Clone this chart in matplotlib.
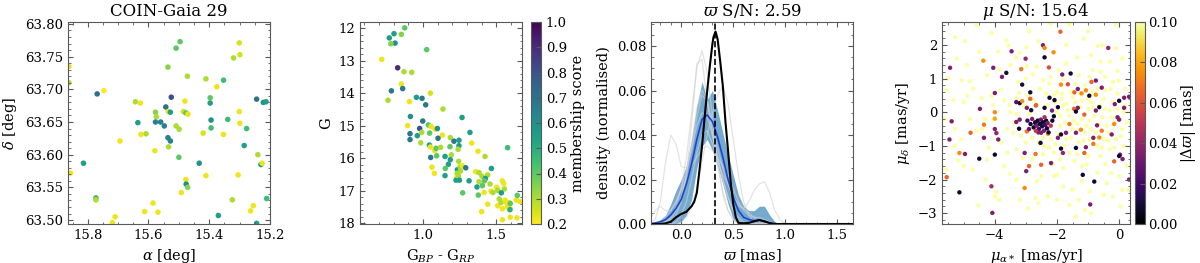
import matplotlib
matplotlib.use('Agg')
import matplotlib.pyplot as plt
import numpy as np

plt.rcParams.update({
    'font.family': 'DejaVu Serif',
    'mathtext.fontset': 'dejavuserif',
    'font.size': 9.5,
    'axes.labelsize': 10.5,
    'axes.titlesize': 12,
    'axes.edgecolor': '0.35',
    'xtick.color': '0.35',
    'ytick.color': '0.35',
    'xtick.labelcolor': 'black',
    'ytick.labelcolor': 'black',
    'xtick.direction': 'in',
    'ytick.direction': 'in',
    'xtick.top': True,
    'ytick.right': True,
    'xtick.minor.visible': True,
    'ytick.minor.visible': True,
    'xtick.major.size': 3.5,
    'ytick.major.size': 3.5,
    'xtick.minor.size': 1.8,
    'ytick.minor.size': 1.8,
})

# ---- panel 1: sky positions (ra, dec, membership score)
RA = [15.496, 15.509, 15.301, 15.299, 15.320, 15.536, 15.472, 15.411, 15.353, 15.375,
      15.862, 15.862, 15.769, 15.747, 15.525, 15.543, 15.643, 15.627, 15.480, 15.397,
      15.397, 15.244, 15.222, 15.213, 15.301, 15.577, 15.574, 15.535, 15.528, 15.485,
      15.477, 15.470, 15.577, 15.560, 15.548, 15.635, 15.509, 15.499, 15.394, 15.339,
      15.299, 15.394, 15.277, 15.625, 15.608, 15.420, 15.353, 15.536, 15.528, 15.534,
      15.285, 15.694, 15.579, 15.500, 15.240, 15.814, 15.433, 15.230, 15.226, 15.857,
      15.411, 15.305, 15.477, 15.476, 15.471, 15.492, 15.773, 15.773, 15.324, 15.211,
      15.585, 15.613, 15.569, 15.255, 15.264, 15.710, 15.370, 15.719, 15.244]
DEC = [63.773, 63.763, 63.771, 63.753, 63.748, 63.734, 63.720, 63.716, 63.714, 63.704,
       63.710, 63.735, 63.693, 63.698, 63.688, 63.673, 63.681, 63.679, 63.682, 63.687,
       63.679, 63.685, 63.680, 63.681, 63.666, 63.665, 63.658, 63.666, 63.665, 63.666,
       63.664, 63.662, 63.650, 63.650, 63.644, 63.649, 63.644, 63.639, 63.653, 63.654,
       63.648, 63.641, 63.640, 63.631, 63.632, 63.633, 63.631, 63.626, 63.621, 63.612,
       63.614, 63.621, 63.606, 63.596, 63.600, 63.587, 63.587, 63.585, 63.587, 63.572,
       63.568, 63.569, 63.562, 63.555, 63.550, 63.542, 63.534, 63.531, 63.531, 63.533,
       63.526, 63.513, 63.512, 63.522, 63.514, 63.505, 63.507, 63.496, 63.495]
SCORE_SKY = [0.40, 0.40, 0.25, 0.25, 0.30, 0.35, 0.30, 0.30, 0.45, 0.22,
             0.30, 0.22, 0.70, 0.20, 0.80, 0.70, 0.30, 0.22, 0.22, 0.40,
             0.55, 0.70, 0.60, 0.55, 0.22, 0.35, 0.30, 0.22, 0.55, 0.25,
             0.40, 0.22, 0.65, 0.65, 0.65, 0.55, 0.30, 0.30, 0.60, 0.45,
             0.22, 0.45, 0.45, 0.22, 0.30, 0.25, 0.22, 0.65, 0.65, 0.30,
             0.55, 0.22, 0.22, 0.40, 0.30, 0.55, 0.60, 0.55, 0.22, 0.22,
             0.22, 0.22, 0.22, 0.60, 0.35, 0.22, 0.45, 0.30, 0.30, 0.45,
             0.22, 0.22, 0.22, 0.22, 0.22, 0.22, 0.55, 0.22, 0.55]

# ---- panel 2: colour-magnitude diagram
BP_RP = [0.875, 0.802, 0.852, 0.770, 0.809, 0.780, 1.025, 0.718, 0.827, 0.870,
         0.923, 0.852, 0.861, 0.784, 1.050, 0.955, 0.993, 0.761, 0.907, 1.018,
         1.136, 0.914, 1.266, 0.998, 0.895, 0.911, 0.911, 0.977, 0.991, 0.961,
         1.036, 1.055, 1.082, 1.098, 1.045, 1.132, 1.102, 0.984, 1.043, 1.050,
         1.080, 1.089, 1.120, 1.186, 1.211, 1.245, 1.245, 1.184, 1.239, 1.320,
         1.332, 1.052, 1.093, 1.150, 1.193, 1.186, 1.173, 1.152, 1.061, 1.077,
         1.150, 1.243, 1.234, 1.232, 1.232, 1.225, 1.252, 1.270, 1.291, 1.255,
         1.241, 1.248, 1.314, 1.270, 1.375, 1.423, 1.466, 1.359, 1.382, 1.402,
         1.382, 1.441, 1.425, 1.418, 1.368, 1.405, 1.457, 1.377, 1.416, 1.464,
         1.502, 1.509, 1.477, 1.541, 1.550, 1.555, 1.534, 1.520, 1.577, 1.441,
         1.509, 1.532, 1.568, 1.586, 1.575, 1.593, 1.541, 1.559, 1.636, 1.643,
         1.661, 1.593, 1.400, 1.595, 1.641, 1.541, 1.595]
G_MAG = [11.98, 12.16, 12.18, 12.29, 12.45, 12.47, 12.65, 12.95, 13.21, 13.33,
         13.35, 13.71, 13.85, 13.92, 13.99, 14.12, 14.15, 14.21, 14.25, 14.35,
         14.48, 14.71, 14.74, 14.85, 14.99, 15.24, 15.42, 15.08, 15.20, 15.30,
         14.97, 15.02, 15.10, 15.08, 15.22, 15.28, 15.38, 15.52, 15.59, 15.65,
         15.76, 15.69, 15.66, 15.36, 15.47, 15.44, 15.61, 15.64, 15.72, 15.20,
         15.53, 15.97, 15.92, 15.94, 15.89, 16.04, 16.18, 16.31, 16.27, 16.46,
         16.53, 16.09, 16.35, 16.46, 16.58, 16.67, 16.26, 16.23, 16.29, 16.39,
         16.54, 16.67, 16.69, 17.06, 15.78, 15.94, 16.31, 16.41, 16.44, 16.55,
         16.72, 16.51, 16.62, 16.69, 16.88, 16.84, 16.79, 17.13, 17.05, 17.01,
         16.89, 16.98, 17.05, 16.69, 16.77, 16.94, 17.06, 17.25, 15.67, 17.41,
         17.46, 17.36, 17.35, 17.36, 17.49, 17.55, 17.55, 17.29, 17.28, 17.14,
         17.33, 17.58, 17.64, 17.81, 17.83, 17.89, 17.39]
SCORE_CMD = [0.40, 0.55, 0.35, 0.55, 0.60, 0.35, 0.40, 0.22, 0.90, 0.30,
             0.30, 0.22, 0.68, 0.68, 0.25, 0.55, 0.68, 0.30, 0.22, 0.68,
             0.30, 0.60, 0.55, 0.68, 0.22, 0.68, 0.68, 0.80, 0.30, 0.55,
             0.40, 0.22, 0.22, 0.60, 0.40, 0.22, 0.68, 0.30, 0.55, 0.22,
             0.22, 0.40, 0.30, 0.30, 0.68, 0.55, 0.55, 0.40, 0.30, 0.55,
             0.22, 0.68, 0.40, 0.55, 0.30, 0.55, 0.55, 0.40, 0.22, 0.22,
             0.55, 0.30, 0.55, 0.30, 0.22, 0.55, 0.30, 0.22, 0.68, 0.30,
             0.30, 0.55, 0.55, 0.40, 0.22, 0.30, 0.55, 0.22, 0.30, 0.30,
             0.30, 0.30, 0.55, 0.40, 0.55, 0.40, 0.30, 0.40, 0.22, 0.22,
             0.22, 0.30, 0.30, 0.22, 0.22, 0.30, 0.55, 0.30, 0.45, 0.22,
             0.22, 0.30, 0.22, 0.22, 0.22, 0.22, 0.22, 0.22, 0.22, 0.40,
             0.22, 0.50, 0.22, 0.22, 0.22, 0.22, 0.40]

# ---- panel 3: parallax densities
OMEGA_GRID = [-0.30, -0.25, -0.20, -0.15, -0.10, -0.05, 0.00, 0.05, 0.10, 0.15,
              0.20, 0.25, 0.30, 0.35, 0.40, 0.45, 0.50, 0.55, 0.60, 0.65,
              0.70, 0.75, 0.80, 0.85, 0.90, 0.95, 1.00]
GREY_CURVES = [
    [0, 0, 0, 0.001, 0.003, 0.008, 0.016, 0.030, 0.050, 0.070, 0.078, 0.068, 0.048, 0.028,
     0.014, 0.006, 0.002, 0.001, 0, 0, 0, 0, 0, 0, 0, 0, 0],
    [0, 0, 0, 0, 0.001, 0.004, 0.010, 0.022, 0.045, 0.072, 0.074, 0.055, 0.040, 0.030,
     0.020, 0.012, 0.006, 0.002, 0, 0, 0, 0, 0, 0, 0, 0, 0],
    [0, 0.002, 0.010, 0.028, 0.040, 0.036, 0.026, 0.025, 0.033, 0.048, 0.058, 0.055, 0.042,
     0.026, 0.014, 0.006, 0.002, 0, 0, 0, 0, 0, 0, 0, 0, 0, 0],
    [0, 0, 0, 0, 0, 0, 0.001, 0.003, 0.008, 0.016, 0.028, 0.040, 0.050, 0.058, 0.062,
     0.054, 0.038, 0.022, 0.010, 0.004, 0.001, 0, 0, 0, 0, 0, 0],
    [0, 0, 0, 0, 0, 0.001, 0.004, 0.010, 0.020, 0.032, 0.040, 0.042, 0.036, 0.028, 0.022,
     0.018, 0.012, 0.008, 0.007, 0.010, 0.015, 0.018, 0.019, 0.014, 0.006, 0.002, 0],
    [0.002, 0.006, 0.008, 0.006, 0.006, 0.010, 0.016, 0.024, 0.034, 0.044, 0.050, 0.048,
     0.040, 0.030, 0.020, 0.012, 0.006, 0.003, 0.001, 0, 0, 0, 0, 0, 0, 0, 0],
    [0, 0, 0.001, 0.003, 0.006, 0.010, 0.015, 0.020, 0.026, 0.030, 0.034, 0.035, 0.033,
     0.030, 0.026, 0.022, 0.016, 0.010, 0.006, 0.004, 0.003, 0.003, 0.002, 0.001, 0, 0, 0],
    [0, 0, 0, 0.001, 0.002, 0.006, 0.012, 0.022, 0.036, 0.052, 0.060, 0.056, 0.045, 0.034,
     0.025, 0.018, 0.012, 0.009, 0.007, 0.005, 0.003, 0.001, 0, 0, 0, 0, 0],
]
MEDIAN_X = OMEGA_GRID + [1.20, 1.65]
MEDIAN_Y = [0, 0.0005, 0.001, 0.002, 0.004, 0.007, 0.011, 0.018, 0.027, 0.038,
            0.047, 0.049, 0.046, 0.039, 0.030, 0.020, 0.012, 0.006, 0.003, 0.002,
            0.0015, 0.0017, 0.0012, 0.0005, 0.0001, 0, 0, 0, 0]
BAND_LOW = [0, 0, 0, 0, 0, 0, 0.001, 0.004, 0.011, 0.025, 0.035, 0.038, 0.033, 0.026,
            0.018, 0.009, 0.002, 0, 0, 0, 0, 0, 0, 0, 0, 0, 0]
BAND_HIGH = [0, 0.0005, 0.002, 0.004, 0.009, 0.015, 0.020, 0.026, 0.038, 0.053, 0.064,
             0.056, 0.060, 0.051, 0.041, 0.031, 0.022, 0.013, 0.008, 0.006, 0.006,
             0.008, 0.008, 0.004, 0.001, 0, 0]
BLACK_X = [-0.30, -0.20, -0.15, -0.10, -0.05, 0.00, 0.05, 0.10, 0.125, 0.15, 0.175,
           0.20, 0.225, 0.25, 0.275, 0.30, 0.31, 0.33, 0.35, 0.36, 0.375, 0.40, 0.425,
           0.45, 0.475, 0.50, 0.525, 0.55, 0.60, 0.65, 0.70, 0.75, 0.80, 0.85, 0.90, 1.65]
BLACK_Y = [0, 0, 0.0003, 0.001, 0.003, 0.0045, 0.0055, 0.008, 0.010, 0.014, 0.024,
           0.035, 0.048, 0.060, 0.071, 0.081, 0.084, 0.0865, 0.083, 0.079, 0.073, 0.062,
           0.046, 0.033, 0.019, 0.009, 0.003, 0.0005, 0.0003, 0.0005, 0.0012, 0.0018,
           0.0012, 0.0004, 0, 0]
PLX_REF = 0.327

# ---- panel 4: proper motions, coloured by |delta parallax|
PM_COLOURED = [
    (-3.46, 1.81, 0.035), (-3.01, 1.59, 0.04), (-4.37, 1.53, 0.075), (-5.44, 1.32, 0.035),
    (-4.05, 1.32, 0.035), (-3.15, 1.28, 0.07), (-3.63, 1.17, 0.01), (-3.77, 1.05, 0.035),
    (-3.12, 0.82, 0.01), (-4.00, 0.57, 0.035), (-2.86, 0.59, 0.01), (-2.86, 0.40, 0.065),
    (-3.31, 0.30, 0.025), (-3.20, 0.27, 0.01), (-3.12, 0.33, 0.075), (-2.97, 0.13, 0.035),
    (-2.83, 0.06, 0.01), (-2.67, 0.21, 0.07), (-4.48, 0.10, 0.035), (-4.00, 0.00, 0.075),
    (-4.00, -0.19, 0.08), (-3.20, -0.22, 0.035),
    (-1.89, 2.39, 0.065), (-0.35, 1.91, 0.04), (-2.45, 1.99, 0.035), (-2.40, 1.91, 0.075),
    (-2.11, 1.78, 0.075), (-2.40, 1.63, 0.008), (-2.26, 1.33, 0.06), (-1.83, 1.12, 0.035),
    (-1.56, 1.15, 0.008), (-0.75, 0.94, 0.035), (-0.89, 0.90, 0.065), (-1.65, 0.83, 0.06),
    (-1.87, 0.82, 0.075), (-0.56, 0.73, 0.035), (-1.07, 0.65, 0.075), (-1.33, 0.69, 0.035),
    (-1.44, 0.59, 0.065), (-1.21, 0.56, 0.075), (-0.96, 0.49, 0.008), (-0.75, 0.52, 0.075),
    (-2.24, 0.43, 0.008), (-2.08, 0.36, 0.008), (0.16, 0.43, 0.035), (0.32, 0.46, 0.035),
    (0.00, 0.34, 0.008), (-0.14, 0.24, 0.035), (-2.68, 0.20, 0.065), (-2.40, 0.13, 0.008),
    (-1.97, 0.15, 0.008), (-2.16, 0.05, 0.035), (-1.33, 0.13, 0.035), (-1.45, 0.10, 0.065),
    (-0.64, 0.15, 0.008), (-0.75, 0.05, 0.035), (-1.12, -0.07, 0.065), (-2.10, -0.12, 0.008),
    (-1.39, 0.02, 0.008), (0.16, 0.13, 0.035), (-0.05, -0.15, 0.035),
    (-5.39, -0.27, 0.035), (-4.35, -0.37, 0.07), (-4.78, -0.61, 0.065), (-5.46, -0.81, 0.035),
    (-4.35, -0.76, 0.035), (-4.00, -0.50, 0.035), (-3.89, -0.81, 0.035), (-3.95, -0.62, 0.04),
    (-5.14, -1.21, 0.075), (-4.96, -1.24, 0.035), (-4.50, -1.38, 0.008), (-4.00, -1.26, 0.008),
    (-5.55, -1.93, 0.065), (-5.14, -2.38, 0.008), (-4.11, -2.20, 0.045), (-4.08, -2.99, 0.035),
    (-3.04, -2.25, 0.075), (-3.31, -0.29, 0.035), (-3.22, -0.49, 0.008), (-2.97, -0.57, 0.07),
    (-3.04, -1.21, 0.035), (-2.90, -1.60, 0.065), (-2.99, -1.75, 0.035), (-2.70, -0.32, 0.02),
    (-2.51, -0.61, 0.035), (-2.29, -0.64, 0.075), (-2.53, -0.91, 0.008), (-2.69, -1.24, 0.07),
    (-1.97, -0.76, 0.035), (-1.87, -0.66, 0.008), (-1.71, -0.61, 0.035), (-1.87, -1.08, 0.008),
    (-1.81, -1.21, 0.04), (-1.60, -0.35, 0.07), (-1.39, -0.61, 0.035), (-1.23, -0.52, 0.075),
    (-1.39, -1.06, 0.008), (-1.12, -1.21, 0.065), (-1.07, -1.04, 0.035), (-0.83, -0.94, 0.07),
    (-0.83, -0.76, 0.035), (-0.64, -0.75, 0.075), (-0.71, -0.39, 0.035), (-0.56, -0.55, 0.07),
    (-0.24, -0.66, 0.035), (-0.16, -0.35, 0.075), (0.00, -0.22, 0.035), (0.03, -1.26, 0.035),
    (0.00, -1.30, 0.008), (0.11, -1.39, 0.035), (-0.16, -1.46, 0.065), (-2.51, -1.56, 0.065),
    (-2.19, -1.51, 0.035), (-1.17, -1.86, 0.008), (-0.80, -2.06, 0.008), (-0.93, -2.74, 0.035),
    (0.32, -2.00, 0.035),
    (-2.95, -0.25, 0.02), (-2.85, -0.35, 0.008), (-2.80, -0.20, 0.035), (-2.75, -0.45, 0.008),
    (-2.70, -0.30, 0.01), (-2.65, -0.40, 0.035), (-2.62, -0.25, 0.008), (-2.58, -0.50, 0.02),
    (-2.55, -0.35, 0.008), (-2.52, -0.22, 0.03), (-2.48, -0.42, 0.01), (-2.45, -0.30, 0.008),
    (-2.42, -0.55, 0.035), (-2.38, -0.38, 0.02), (-2.35, -0.25, 0.008), (-2.32, -0.48, 0.01),
    (-2.30, -0.32, 0.035), (-2.27, -0.60, 0.008), (-2.60, -0.60, 0.035), (-2.90, -0.50, 0.03),
    (-2.20, -0.40, 0.05), (-2.15, -0.25, 0.008), (-2.68, -0.55, 0.05), (-2.40, -0.15, 0.045),
]
PM_PALE = [
    (-4.59, 2.58), (-5.28, 2.23), (-4.96, 2.11), (-3.63, 2.13), (-2.99, 1.93), (-3.57, 1.98),
    (-3.20, 1.77), (-3.31, 1.63), (-5.23, 1.59), (-3.84, 1.27), (-2.97, 1.37), (-5.07, 0.95),
    (-4.80, 0.92), (-2.77, 1.12), (-3.25, 0.90), (-5.55, 0.67), (-3.79, 0.67), (-4.11, 0.48),
    (-3.22, 0.58), (-5.33, 0.37), (-4.88, 0.49), (-4.42, 0.42), (-3.31, 0.42), (-3.52, 0.21),
    (-4.05, 0.21), (-4.02, -0.22), (-5.39, -0.27),
    (-2.21, 2.62), (-1.14, 2.18), (-0.11, 2.58), (-0.69, 1.97), (-0.53, 1.99), (-1.35, 1.63),
    (-0.85, 1.26), (-0.05, 1.23), (-0.02, 0.94), (-1.81, 0.97), (-2.20, 1.05), (-2.25, 0.85),
    (-2.45, 0.95), (-0.27, 0.69), (-1.50, 0.45), (-1.20, 0.35), (-0.90, 0.30), (-0.50, 0.40),
    (-0.30, 0.05), (-1.00, 0.10), (-1.70, 0.25), (-2.00, 0.60), (-1.90, -0.10), (-0.20, 0.90),
    (0.20, 0.20),
    (-5.28, -0.49), (-4.42, -0.50), (-5.10, -0.81), (-4.60, -0.55), (-3.80, -0.90),
    (-5.17, -1.44), (-4.20, -1.05), (-4.25, -1.40), (-5.57, -1.70), (-3.52, -1.83),
    (-3.95, -2.37), (-3.86, -2.60), (-4.53, -2.76), (-2.93, -2.86), (-3.40, -0.60),
    (-3.00, -0.90), (-3.10, -1.35), (-2.80, -1.40), (-3.40, -0.30), (-3.60, -1.20),
    (-2.60, -0.90), (-2.00, -1.85), (-2.10, -1.90), (-1.20, -1.60), (-2.30, -2.50),
    (-2.00, -2.60), (-2.70, -2.55), (-1.50, -2.30), (-1.30, -2.60), (-1.10, -2.90),
    (-1.40, -3.10), (-1.60, -2.75), (-0.20, -2.50), (0.05, -2.80), (0.30, -2.30),
    (-0.50, -2.45), (-2.60, -2.70), (-0.90, -3.00),
    (-2.00, 0.00), (-1.80, 0.20), (-1.60, -0.10), (-1.40, 0.30), (-1.20, -0.20), (-1.00, 0.40),
    (-0.80, -0.10), (-0.60, 0.20), (-0.40, -0.40), (-0.20, 0.30), (0.10, -0.50), (-1.90, -0.40),
    (-1.70, -0.80), (-1.50, -0.50), (-1.30, -0.90), (-1.10, -0.60), (-0.90, -0.50),
    (-0.70, -1.00), (-0.50, -0.80), (-0.30, -1.10), (-0.10, -0.80), (-2.20, -0.80),
    (-2.40, -1.00), (-2.10, -1.20), (-1.90, -1.40), (-1.60, -1.20), (-1.00, -1.30),
    (-0.60, -1.30), (-0.35, -0.60), (-0.05, 0.10), (0.25, -0.30), (-2.30, 0.20), (-2.10, 0.50),
    (-1.55, 0.60), (-1.10, 0.80), (-0.70, 0.70), (-0.45, 1.05), (-1.30, 1.10), (-0.30, 1.50),
    (-1.70, 1.45), (-2.90, -0.05), (-3.50, 0.00), (-3.60, -0.50), (-2.95, 0.50), (-3.70, 0.35),
    (-1.75, -0.30), (-1.35, -0.35), (-0.95, -0.25), (-0.55, -0.15), (-0.15, -0.30),
    (0.15, -1.00), (0.20, 0.70), (-4.50, 1.80), (-4.10, 2.35), (-2.60, 2.10), (-1.60, 2.60),
    (-1.00, 2.40), (-0.60, 1.50), (0.10, 1.60), (-3.00, 1.00), (-2.55, 0.70), (-5.00, 0.30),
    (-5.60, -0.20), (-5.30, -1.00), (-4.70, -1.70), (-4.30, -2.00), (-3.30, -2.00),
    (-2.50, -1.90), (-0.70, -1.80), (0.00, -1.90), (0.25, -1.60), (-3.20, -2.60),
    (-4.00, -2.50),
    (-2.05, 0.30), (-1.85, 0.55), (-1.65, 0.05), (-1.45, -0.25), (-1.25, 0.15), (-1.05, -0.40),
    (-0.85, 0.15), (-0.65, -0.35), (-0.45, 0.10), (-0.25, -0.15), (-0.05, 0.55), (0.15, 0.00),
    (-1.95, -0.65), (-1.75, -1.00), (-1.55, -0.75), (-1.35, -1.25), (-1.15, -0.85),
    (-0.95, -0.80), (-0.75, -0.60), (-0.55, -1.05), (-0.35, -0.85), (-0.15, -1.05),
    (0.05, -0.70), (-2.45, -0.75), (-2.25, -1.05), (-2.05, -0.95), (-1.85, 0.40),
    (-1.25, 0.55), (-0.85, 0.60), (-0.45, 0.65), (-2.35, 0.55), (-2.75, 0.35), (-3.05, 0.20),
    (-3.30, -0.05), (-3.15, -0.70), (-2.80, -0.75), (-2.45, -1.25), (-2.15, -1.55),
    (-1.80, -1.65), (-1.45, -1.45), (-1.05, -1.55), (-0.45, -1.55), (-0.25, -1.80),
    (-1.40, 0.85), (-0.95, 1.05), (-0.60, 1.20), (-1.95, 1.25), (-2.65, 1.35), (-3.50, 1.40),
    (-4.25, 1.10), (-4.70, 0.70), (-4.30, -0.20), (-4.80, -0.20), (-5.00, -1.60),
    (-3.70, -1.60), (-3.30, -1.10), (-2.65, -2.05), (-1.80, -2.20), (-0.95, -2.35),
    (-0.40, -2.10), (0.10, -2.30), (-1.20, -2.05), (-0.10, 1.90), (-0.90, 1.70),
    (-1.70, 2.00), (-2.90, 2.40), (-3.90, 1.80), (-4.90, 1.40), (-5.50, 1.00),
]
PALE_VALUE = 0.1

W, H = 1200, 263
fig = plt.figure(figsize=(W / 100, H / 100), dpi=100)


def box(left, width):
    return [left / W, 39 / H, width / W, 202 / H]


# panel 1
ax1 = fig.add_axes(box(68, 202))
ax1.scatter(RA, DEC, c=SCORE_SKY, cmap='viridis_r', vmin=0.2, vmax=1.0, s=16,
            linewidths=0)
ax1.set_xlim(15.865, 15.2)
ax1.set_ylim(63.494, 63.803)
ax1.set_xticks([15.8, 15.6, 15.4, 15.2])
ax1.set_yticks([63.50, 63.55, 63.60, 63.65, 63.70, 63.75, 63.80])
ax1.set_xlabel(r'$\alpha$ [deg]')
ax1.set_ylabel(r'$\delta$ [deg]')
ax1.set_title('COIN-Gaia 29', pad=4)

# panel 2
ax2 = fig.add_axes(box(360, 162))
sc2 = ax2.scatter(BP_RP, G_MAG, c=SCORE_CMD, cmap='viridis_r', vmin=0.2, vmax=1.0,
                  s=16, linewidths=0)
ax2.set_xlim(0.57, 1.675)
ax2.set_ylim(18.02, 11.8)
ax2.set_xticks([1.0, 1.5])
ax2.set_yticks([12, 13, 14, 15, 16, 17, 18])
ax2.set_xlabel(r'G$_{BP}$ - G$_{RP}$')
ax2.set_ylabel('G')
cax2 = fig.add_axes(box(531, 10))
cb2 = fig.colorbar(sc2, cax=cax2)
cb2.set_ticks(np.round(np.arange(0.2, 1.01, 0.1), 1))
cb2.set_label('membership score', labelpad=3)
cb2.ax.minorticks_off()

# panel 3
ax3 = fig.add_axes(box(651, 202))
for curve in GREY_CURVES:
    ax3.plot(OMEGA_GRID, curve, color='0.82', lw=0.9, alpha=0.6)
ax3.fill_between(OMEGA_GRID, BAND_LOW, BAND_HIGH, color='#1f77b4', alpha=0.62,
                 linewidth=0)
ax3.plot(MEDIAN_X, MEDIAN_Y, color='#1a45d4', lw=1.2)
ax3.plot(BLACK_X, BLACK_Y, color='black', lw=1.5)
ax3.axvline(PLX_REF, color='black', ls='--', lw=1.2)
ax3.set_xlim(-0.29, 1.65)
ax3.set_ylim(0, 0.0908)
ax3.set_xticks([0.0, 0.5, 1.0, 1.5])
ax3.set_yticks([0.00, 0.02, 0.04, 0.06, 0.08])
ax3.set_xlabel(r'$\varpi$ [mas]')
ax3.set_ylabel('density (normalised)')
ax3.set_title(r'$\varpi$ S/N: 2.59', pad=4)

# panel 4
ax4 = fig.add_axes(box(942, 188))
pale_x = [p[0] for p in PM_PALE]
pale_y = [p[1] for p in PM_PALE]
ax4.scatter(pale_x, pale_y, c=[PALE_VALUE] * len(PM_PALE), cmap='inferno', vmin=0,
            vmax=0.1, s=10, linewidths=0)
col_x = [p[0] for p in PM_COLOURED]
col_y = [p[1] for p in PM_COLOURED]
col_v = [p[2] for p in PM_COLOURED]
sc4 = ax4.scatter(col_x, col_y, c=col_v, cmap='inferno', vmin=0, vmax=0.1, s=10,
                  linewidths=0)
ax4.set_xlim(-5.7, 0.35)
ax4.set_ylim(-3.32, 2.68)
ax4.set_xticks([-4, -2, 0])
ax4.set_yticks([-3, -2, -1, 0, 1, 2])
ax4.set_xlabel(r'$\mu_{\alpha*}$ [mas/yr]')
ax4.set_ylabel(r'$\mu_\delta$ [mas/yr]')
ax4.set_title(r'$\mu$ S/N: 15.64', pad=4)
cax4 = fig.add_axes(box(1135, 10))
cb4 = fig.colorbar(sc4, cax=cax4)
cb4.set_ticks([0.0, 0.02, 0.04, 0.06, 0.08, 0.10])
cb4.set_ticklabels(['0.00', '0.02', '0.04', '0.06', '0.08', '0.10'])
cb4.set_label(r'$|\Delta\varpi|$ [mas]', labelpad=1)
cb4.ax.tick_params(pad=2)
cb4.ax.minorticks_off()

fig.savefig('out.png', dpi=100)
